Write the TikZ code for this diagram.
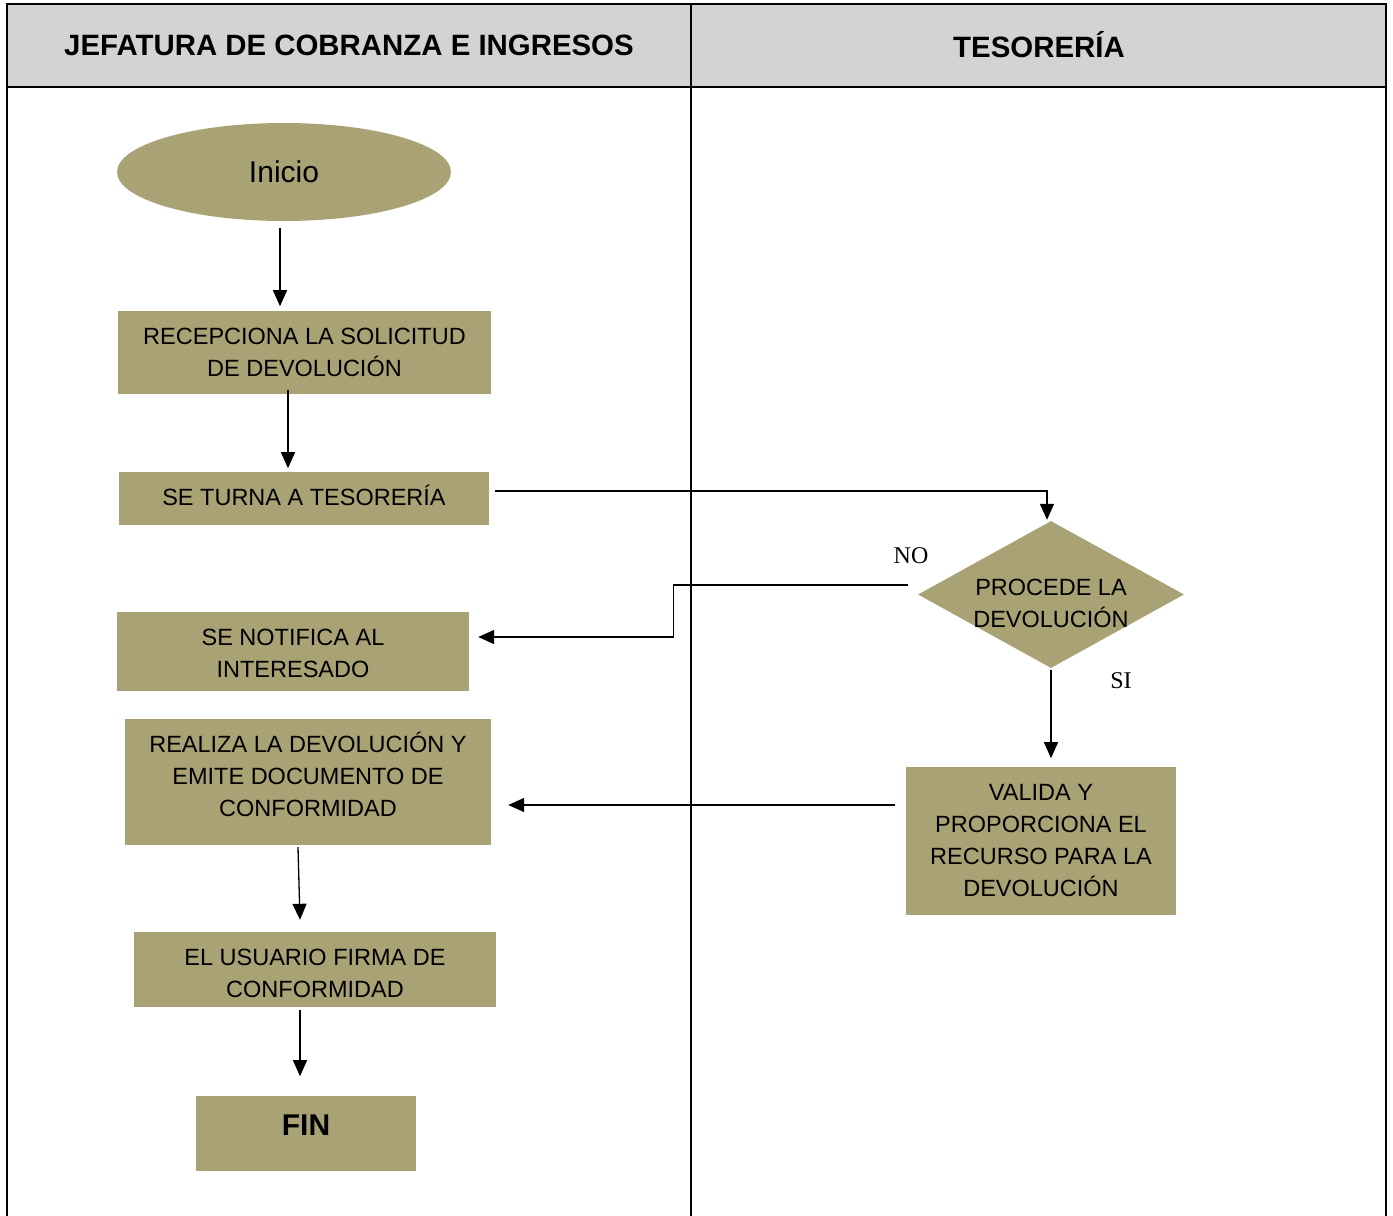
\documentclass[tikz,border=0pt]{standalone}
\usepackage{fontspec}
\setmainfont{Liberation Sans}
\newfontfamily\lblfont{Liberation Serif}
\usetikzlibrary{shapes.geometric,arrows.meta}
\definecolor{boxfill}{RGB}{168,162,116}
\definecolor{hdrgray}{RGB}{211,211,211}
\begin{document}
\begin{tikzpicture}[x=1pt,y=-1pt,
  box/.style={rectangle,fill=boxfill,inner sep=0pt},
  boxtxt/.style={align=center,inner sep=0pt,font=\fontsize{23.5}{32}\selectfont},
  arr/.style={-{Triangle[length=16pt,width=14pt]},line width=1.3pt},
  lane/.style={line width=2pt},
  hdr/.style={font=\bfseries\fontsize{29.4}{33}\selectfont},
  lbl/.style={font=\lblfont\fontsize{24}{28}\selectfont}]
\useasboundingbox (0,0) rectangle (1393,1216);
% swimlanes
\fill[hdrgray] (7,4) rectangle (1386,87);
\draw[lane] (7,1216) -- (7,4) -- (1386,4) -- (1386,1216);
\draw[lane] (7,87) -- (1386,87);
\draw[lane] (691,4) -- (691,1216);
\node[hdr] (h1) at (349,45) {JEFATURA DE COBRANZA E INGRESOS};
\node[hdr] (h2) at (1039,45) {TESORERÍA};
% nodes
\node[ellipse,fill=boxfill,minimum width=334pt,minimum height=98pt,inner sep=0pt,font=\fontsize{30}{34}\selectfont] (ini) at (284,172) {Inicio};
\node[box,minimum width=373pt,minimum height=83pt,label={[boxtxt]center:RECEPCIONA LA SOLICITUD\\DE DEVOLUCIÓN}] (rec) at (304.5,352.5) {};
\node[box,minimum width=370pt,minimum height=53pt,label={[boxtxt,yshift=3pt]center:SE TURNA A TESORERÍA}] (tur) at (304,498.5) {};
\node[box,minimum width=352pt,minimum height=79pt,label={[boxtxt,yshift=-2pt]center:SE NOTIFICA AL\\INTERESADO}] (noti) at (293,651.5) {};
\node[box,minimum width=366pt,minimum height=126pt,label={[boxtxt,yshift=8pt]center:REALIZA LA DEVOLUCIÓN Y\\EMITE DOCUMENTO DE\\CONFORMIDAD}] (rea) at (308,782) {};
\node[box,minimum width=362pt,minimum height=75pt,label={[boxtxt,yshift=-4pt]center:EL USUARIO FIRMA DE\\CONFORMIDAD}] (usu) at (315,969.5) {};
\node[box,minimum width=220pt,minimum height=75pt,label={[boxtxt,yshift=8pt,font=\bfseries\fontsize{30}{34}\selectfont]center:FIN}] (fin) at (306,1133.5) {};
\node[diamond,fill=boxfill,aspect=1.81,inner sep=0pt,minimum width=266pt,minimum height=147pt,label={[boxtxt,yshift=-9pt]center:PROCEDE LA\\DEVOLUCIÓN}] (dia) at (1051,594.5) {};
\node[box,minimum width=270pt,minimum height=148pt,label={[boxtxt]center:VALIDA Y\\PROPORCIONA EL\\RECURSO PARA LA\\DEVOLUCIÓN}] (val) at (1041,841) {};
\node[lbl] (no) at (911,556) {NO};
\node[lbl] (si) at (1121,681) {SI};
% connectors
\draw[arr] ([xshift=-4pt,yshift=-7pt]ini.south) -- ++(0,78);
\draw[arr] ([xshift=-16.5pt,yshift=4pt]rec.south) -- ++(0,78);
\draw[arr] ([xshift=6pt,yshift=7.5pt]tur.east) -| ([xshift=-4pt,yshift=1pt]dia.north);
\draw[arr] ([xshift=-10pt,yshift=9.5pt]dia.west) -- ++(-234,0) |- ([xshift=9pt,yshift=14.5pt]noti.east);
\draw[arr] ([yshift=-2pt]dia.south) -- ++(0,88);
\draw[arr] ([xshift=-11pt,yshift=36pt]val.west) -- ([xshift=17pt,yshift=-23pt]rea.east);
\draw[arr] ([xshift=-10pt,yshift=-2pt]rea.south) -- ([xshift=-15pt,yshift=12pt]usu.north);
\draw[arr] ([xshift=-15pt,yshift=-3pt]usu.south) -- ++(0,66);
\end{tikzpicture}
\end{document}
